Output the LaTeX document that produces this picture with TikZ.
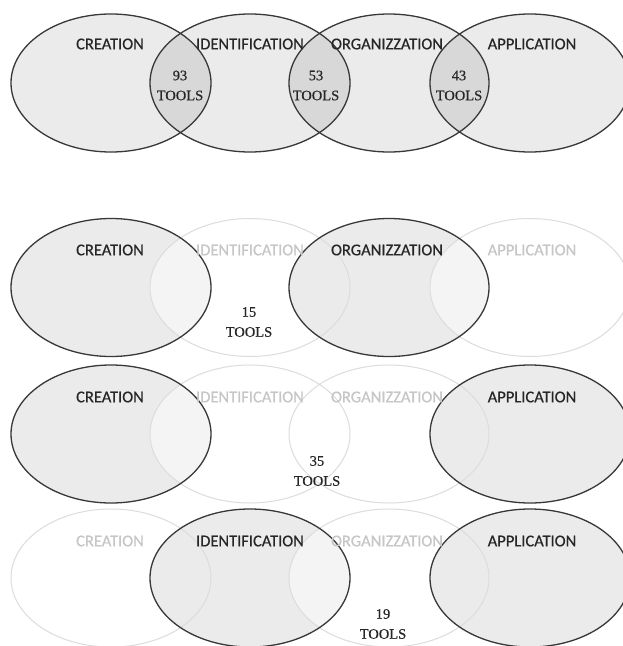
\documentclass[tikz,border=0pt]{standalone}
\usepackage{fontspec}
\setmainfont{Liberation Serif}[FakeBold=0.4]
\newfontfamily\labfont{Carlito}[FakeBold=0.5]
\usetikzlibrary{shapes.geometric}
\definecolor{edge}{HTML}{383838}
\definecolor{faint}{HTML}{DCDCDC}
\definecolor{fainttext}{HTML}{C6C6C6}
\definecolor{dark}{HTML}{262626}
\begin{document}
\begin{tikzpicture}[x=1pt,y=-1pt,
  hi/.style={ellipse, minimum width=200pt, minimum height=138pt, inner sep=0pt, outer sep=0pt, fill=black, fill opacity=0.08},
  lo/.style={ellipse, minimum width=200pt, minimum height=138pt, inner sep=0pt, outer sep=0pt, fill=white, fill opacity=0.45},
  hiline/.style={draw=edge, line width=1.3pt},
  loline/.style={draw=faint, line width=1pt},
  lab/.style={font=\labfont\fontsize{16.5}{18}\selectfont, text=dark, inner sep=0pt},
  lablo/.style={lab, text=fainttext},
  num/.style={font=\fontsize{14.5}{20}\selectfont, align=center, text=dark, inner sep=0pt}]
\useasboundingbox (0,0) rectangle (622,646);
\fill[white] (0,0) rectangle (622,646);

% ---------- Row 1 ----------
\node[hi] (a1) at (111,83) {};
\node[hi] (a2) at (250,83) {};
\node[hi] (a3) at (389,83) {};
\node[hi] (a4) at (530,83) {};
\foreach \n in {a1,a2,a3,a4} \draw[hiline] (\n.center) ellipse [x radius=100pt, y radius=69pt];
\node[lab] (la1) at (110,44) {CREATION};
\node[lab] (la2) at (250,44) {IDENTIFICATION};
\node[lab] (la3) at (387,44) {ORGANIZZATION};
\node[lab] (la4) at (532,44) {APPLICATION};
\node[num] (na1) at (180,85.5) {93\\TOOLS};
\node[num] (na2) at (316,85.5) {53\\TOOLS};
\node[num] (na3) at (459,85.5) {43\\TOOLS};

% ---------- Row 2 ----------
\node[hi] (b1) at (111,287.5) {};
\node[lo] (b2) at (250,287.5) {};
\node[hi] (b3) at (389,287.5) {};
\node[lo] (b4) at (530,287.5) {};
\foreach \n in {b2,b4} \draw[loline] (\n.center) ellipse [x radius=100pt, y radius=69pt];
\foreach \n in {b1,b3} \draw[hiline] (\n.center) ellipse [x radius=100pt, y radius=69pt];
\node[lab] (lb1) at (110,250) {CREATION};
\node[lablo] (lb2) at (250,250) {IDENTIFICATION};
\node[lab] (lb3) at (387,250) {ORGANIZZATION};
\node[lablo] (lb4) at (532,250) {APPLICATION};
\node[num] (nb) at (249,322) {15\\TOOLS};

% ---------- Row 3 ----------
\node[hi] (c1) at (111,434) {};
\node[lo] (c2) at (250,434) {};
\node[lo] (c3) at (389,434) {};
\node[hi] (c4) at (530,434) {};
\foreach \n in {c2,c3} \draw[loline] (\n.center) ellipse [x radius=100pt, y radius=69pt];
\foreach \n in {c1,c4} \draw[hiline] (\n.center) ellipse [x radius=100pt, y radius=69pt];
\node[lab] (lc1) at (110,397) {CREATION};
\node[lablo] (lc2) at (250,397) {IDENTIFICATION};
\node[lablo] (lc3) at (387,397) {ORGANIZZATION};
\node[lab] (lc4) at (532,397) {APPLICATION};
\node[num] (nc) at (317,471) {35\\TOOLS};

% ---------- Row 4 ----------
\node[lo] (d1) at (111,578) {};
\node[hi] (d2) at (250,578) {};
\node[lo] (d3) at (389,578) {};
\node[hi] (d4) at (530,578) {};
\foreach \n in {d1,d3} \draw[loline] (\n.center) ellipse [x radius=100pt, y radius=69pt];
\foreach \n in {d2,d4} \draw[hiline] (\n.center) ellipse [x radius=100pt, y radius=69pt];
\node[lablo] (ld1) at (110,541) {CREATION};
\node[lab] (ld2) at (250,541) {IDENTIFICATION};
\node[lablo] (ld3) at (387,541) {ORGANIZZATION};
\node[lab] (ld4) at (532,541) {APPLICATION};
\node[num] (nd) at (383,624) {19\\TOOLS};
\end{tikzpicture}
\end{document}
